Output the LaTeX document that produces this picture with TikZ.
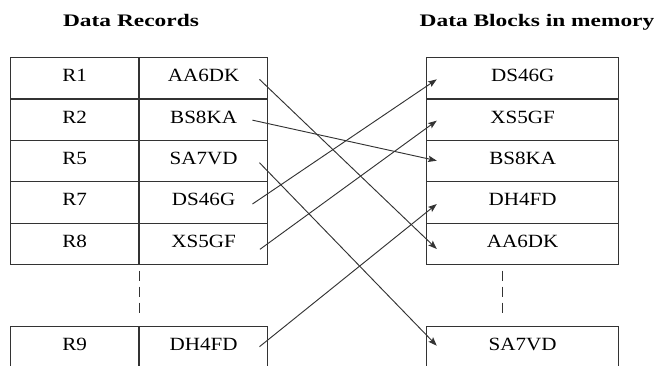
\documentclass[tikz,border=0pt]{standalone}
\usepackage{fontspec}
\setmainfont{Liberation Serif}[FakeStretch=1.13]
\newfontfamily\titlefont{Liberation Serif}[FakeStretch=1.33]
\usetikzlibrary{arrows.meta,calc}
\tikzset{
  cell/.style={draw=black!80, line width=0.8pt, inner sep=0pt, minimum height=31.05pt,
    text height=9.27pt, text depth=4.2pt, font=\fontsize{14pt}{16pt}\selectfont, text=black},
  lcell/.style={cell, minimum width=96.5pt},
  rcell/.style={cell, minimum width=144pt},
  title/.style={anchor=base, font=\titlefont\bfseries\fontsize{13.2pt}{15pt}\selectfont, inner sep=0pt},
  link/.style={draw=black!80, line width=0.7pt, -{Stealth[length=6.5pt,width=4.8pt,inset=1.3pt]}},
  gap/.style={draw=black!80, line width=0.8pt, dash pattern=on 7.5pt off 4.5pt}
}
\begin{document}
\begin{tikzpicture}[x=0.75pt,y=-0.75pt]
\useasboundingbox (0,0) rectangle (656,365);
\clip (0,0) rectangle (656,365);
% titles
\node[title] (t1) at (131,26.7) {Data Records};
\node[title] (t2) at (537,26.7) {Data Blocks in memory};
% left table
\node[lcell] (L1a) at (74.6,78.35) {R1};
\node[lcell] (L1b) at (203.6,78.35) {AA6DK};
\node[lcell] (L2a) at (74.6,119.65) {R2};
\node[lcell] (L2b) at (203.6,119.65) {BS8KA};
\node[lcell] (L3a) at (74.6,161.0) {R5};
\node[lcell] (L3b) at (203.6,161.0) {SA7VD};
\node[lcell] (L4a) at (74.6,202.4) {R7};
\node[lcell] (L4b) at (203.6,202.4) {DS46G};
\node[lcell] (L5a) at (74.6,243.8) {R8};
\node[lcell] (L5b) at (203.6,243.8) {XS5GF};
\node[lcell] (L6a) at (74.6,347.4) {R9};
\node[lcell] (L6b) at (203.6,347.4) {DH4FD};
% right table
\node[rcell] (M1) at (522.7,78.35) {DS46G};
\node[rcell] (M2) at (522.7,119.65) {XS5GF};
\node[rcell] (M3) at (522.7,161.0) {BS8KA};
\node[rcell] (M4) at (522.7,202.4) {DH4FD};
\node[rcell] (M5) at (522.7,243.8) {AA6DK};
\node[rcell] (M6) at (522.7,347.4) {SA7VD};
% dashed continuation marks
\draw[gap] ($(L5a.south east)+(0,5.5)$) -- ($(L6a.north east)+(0,-12.5)$);
\draw[gap] ($(M5.south)+(-20.4,5.5)$) -- ($(M6.north)+(-20.4,-12.5)$);
% arrow ends
\coordinate (s1) at ($(L1b.east)+(-9,1)$);
\coordinate (s2) at ($(L2b.east)+(-16,0.5)$);
\coordinate (s3) at ($(L3b.east)+(-9,1.7)$);
\coordinate (s4) at ($(L4b.east)+(-16,1.6)$);
\coordinate (s5) at ($(L5b.east)+(-8.5,5.5)$);
\coordinate (s6) at ($(L6b.east)+(-9,-0.7)$);
\coordinate (e1) at ($(M1.west)+(10.6,1)$);
\coordinate (e2) at ($(M2.west)+(10.6,1)$);
\coordinate (e3) at ($(M3.west)+(10.6,-0.3)$);
\coordinate (e4) at ($(M4.west)+(10.6,1.6)$);
\coordinate (e5) at ($(M5.west)+(10.6,5.2)$);
\coordinate (e6) at ($(M6.west)+(10.6,-1.7)$);
% links
\draw[link] (s1) -- (e5);
\draw[link] (s2) -- (e3);
\draw[link] (s3) -- (e6);
\draw[link] (s4) -- (e1);
\draw[link] (s5) -- (e2);
\draw[link] (s6) -- (e4);
\end{tikzpicture}
\end{document}
